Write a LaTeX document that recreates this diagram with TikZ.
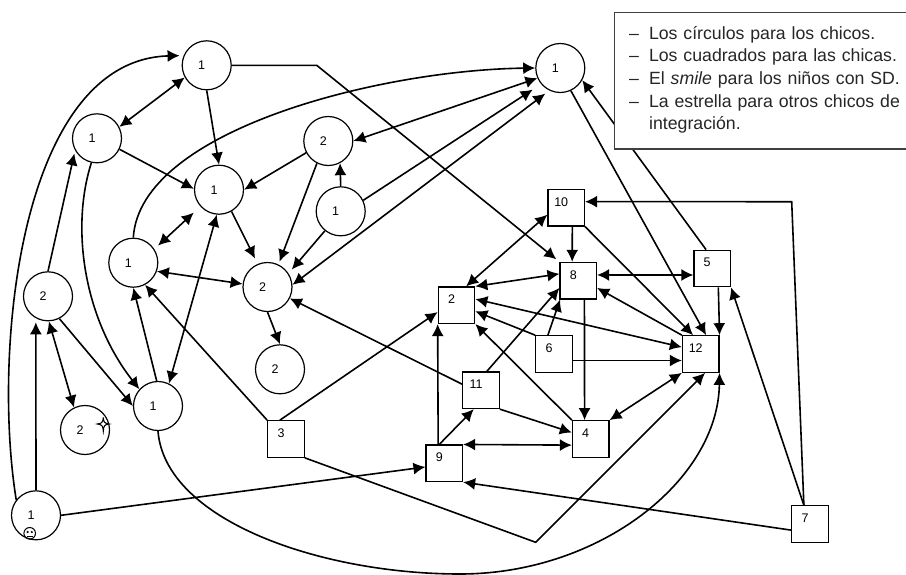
\documentclass[tikz,border=0pt]{standalone}
\usepackage{fontspec}
\setmainfont{Liberation Sans}
\usetikzlibrary{arrows.meta}

\tikzset{
  chico/.style={draw,circle,line width=1.2pt,minimum size=49pt,inner sep=0pt,font=\fontsize{12.5}{12.5}\selectfont,
    text height=9pt,text depth=0pt,execute at end node={\hspace{10pt}}},
  chica/.style={draw,rectangle,line width=1.2pt,minimum size=36.5pt,inner sep=0pt,font=\fontsize{12.5}{12.5}\selectfont,
    text height=9pt,text depth=12.4pt,execute at end node={\hspace{10pt}}},
  flecha/.style={line width=1.6pt,-{Latex[length=12pt,width=12pt]}},
  doble/.style={line width=1.6pt,{Latex[length=12pt,width=12pt]}-{Latex[length=12pt,width=12pt]}}
}

\begin{document}
\begin{tikzpicture}[x=1pt,y=-1pt]
  \useasboundingbox (0,0) rectangle (906,574);

  % Circulos
  \node[chico] (a) at (206.7,65.3) {1};
  \node[chico] (b) at (97,138.3) {1};
  \node[chico] (c) at (219,189.7) {1};
  \node[chico] (d) at (328.3,141) {2};
  \node[chico] (e) at (340.7,211.3) {1};
  \node[chico] (f) at (133.3,262.7) {1};
  \node[chico] (g) at (267.5,287) {2};
  \node[chico] (h) at (48,296.3) {2};
  \node[chico] (i) at (158,406) {1};
  \node[chico] (j) at (85,430) {2};
  \node[chico] (k) at (280,369.3) {2};
  \node[chico] (l) at (36,515.3) {1};
  \node[chico] (m) at (560.3,68) {1};

  % Cuadrados
  \node[chica] (n2) at (456.5,305.2) {2};
  \node[chica] (n3) at (286,439) {3};
  \node[chica] (n4) at (590.7,439) {4};
  \node[chica] (n5) at (712.2,268.5) {5};
  \node[chica] (n6) at (554,354) {6};
  \node[chica] (n7) at (810,524) {7};
  \node[chica] (n8) at (578.3,280.7) {8};
  \node[chica] (n9) at (444.3,463.3) {9};
  \node[chica] (n10) at (566.2,207.8) {10};
  \node[chica] (n11) at (481,390.3) {11};
  \node[chica] (n12) at (700.7,354) {12};

  % Codos
  \coordinate (codoa) at (316.7,65.3);
  \coordinate (codob) at (535.7,542.3);
  \coordinate (codoc) at (791.7,201.7);

  % Flechas de los circulos
  \draw[flecha,shorten >=4pt] (l.142) .. controls (-8,350) and (20,60) .. (a.157);
  \draw[flecha,shorten >=4pt] (l.north) -- (h.-119);
  \draw[flecha] (l.east) -- (n9.191);
  \draw[flecha,shorten >=3pt] (h.north) -- (b.209);
  \draw[doble] (h.-88) -- (j.116);
  \draw[flecha] (h.-63) -- (i.west);
  \draw[flecha] (b.-103) .. controls (70,230) and (85,320) .. (i.138);
  \draw[flecha] (b.-26) -- (c.178);
  \draw[doble] (a.209) -- (b.27);
  \draw[flecha] (a.south) -- (c.north);
  \draw[flecha,shorten >=4pt] (a.east) -- (codoa) -- (n8.north west);
  \draw[flecha] (f.north) .. controls (140,130) and (380,70) .. (m.west);
  \draw[doble] (d.east) -- (m.204);
  \draw[flecha,shorten >=10pt] (e.26) -- (m.220);
  \draw[doble,shorten >=5pt] (g.5) -- (m.244);
  \draw[flecha] (e.north) -- (d.-62);
  \draw[flecha] (d.208) -- (c.east);
  \draw[flecha,shorten >=3pt] (d.243) -- (g.64);
  \draw[flecha,shorten >=5pt] (e.231) -- (g.33);
  \draw[flecha,shorten >=6pt] (c.-60) -- (g.113);
  \draw[doble,shorten >=9pt,shorten <=5pt] (f.33) -- (c.222);
  \draw[doble] (f.-20) -- (g.173);
  \draw[flecha] (i.93) -- (f.south);
  \draw[doble] (c.-95) -- (i.64);
  \draw[flecha] (g.south) -- (k.north);
  \draw[flecha] (i.south) .. controls (165,520) and (320,574) .. (460,574) .. controls (600,574) and (718,480) .. (n12.south east);

  % Flechas de los cuadrados
  \draw[flecha] (n3.north west) -- (f.-62);
  \draw[flecha] (n3.108) -- (n2.200);
  \draw[flecha] (n3.south east) -- (codob) -- (n12.-77);
  \draw[flecha] (n11.162) -- (g.-27);
  \draw[flecha] (n9.108) -- (n2.south west);
  \draw[flecha] (n9.105) -- (n11.249);
  \draw[doble] (n9.north east) -- (n4.198);
  \draw[flecha] (n11.south east) -- (n4.161);
  \draw[flecha] (n11.73) -- (n8.201);
  \draw[flecha] (n4.north west) -- (n2.south east);
  \draw[flecha] (n6.north west) -- (n2.-18);
  \draw[flecha] (n6.108) -- (n8.226);
  \draw[flecha] (n6.-19) -- (n12.199);
  \draw[doble] (n2.18) -- (n12.160);
  \draw[flecha] (n8.-72) -- (n4.108);
  \draw[flecha] (n12.north west) -- (n8.-21);
  \draw[doble] (n8.17) -- (n5.199);
  \draw[doble] (n8.160) -- (n2.north east);
  \draw[doble] (n10.200) -- (n2.63);
  \draw[flecha] (n10.-72) -- (n8.108);
  \draw[flecha] (n10.south east) -- (n12.112);
  \draw[flecha] (m.-65) -- (n12.74);
  \draw[flecha] (n5.108) -- (m.-29);
  \draw[flecha] (n5.-72) -- (n12.north east);
  \draw[doble] (n12.south west) -- (n4.north east);
  \draw[flecha] (n7.108) -- (n5.south east);
  \draw[flecha] (n7.108) -- (codoc) -- (n10.18);
  \draw[flecha] (n7.198) -- (n9.south east);

  % Smile
  \draw[line width=1pt] (29.7,533.3) circle (5.8);
  \fill (27.6,532) circle (1.2);
  \fill (31.8,532) circle (1.2);
  \draw[line width=1pt] (26.5,536.5) -- (33,536.5);

  % Estrella
  \draw[line width=1.1pt,fill=white] (103.3,417.5) .. controls (103.6,422) and (104.5,423.5) .. (109,424)
    .. controls (104.5,424.5) and (103.6,426) .. (103.3,431)
    .. controls (103,426) and (102,424.5) .. (97.5,424)
    .. controls (102,423.5) and (103,422) .. (103.3,417.5);

  % Leyenda
  \node[draw=black!75,fill=white,line width=1.2pt,minimum width=300pt,minimum height=136.6pt,anchor=north west] (leyenda) at (613.7,11.7) {};
  \node[anchor=north west,inner sep=0pt,font=\fontsize{17.7}{22.6}\selectfont,text width=290pt,align=left,text=black!85] (txtleyenda) at (629,26) {%
    –\hspace{10pt}Los círculos para los chicos.\\
    –\hspace{10pt}Los cuadrados para las chicas.\\
    –\hspace{10pt}El \textit{smile} para los niños con SD.\\
    –\hspace{10pt}La estrella para otros chicos de\\
    \hspace*{20pt}integración.};
\end{tikzpicture}
\end{document}
